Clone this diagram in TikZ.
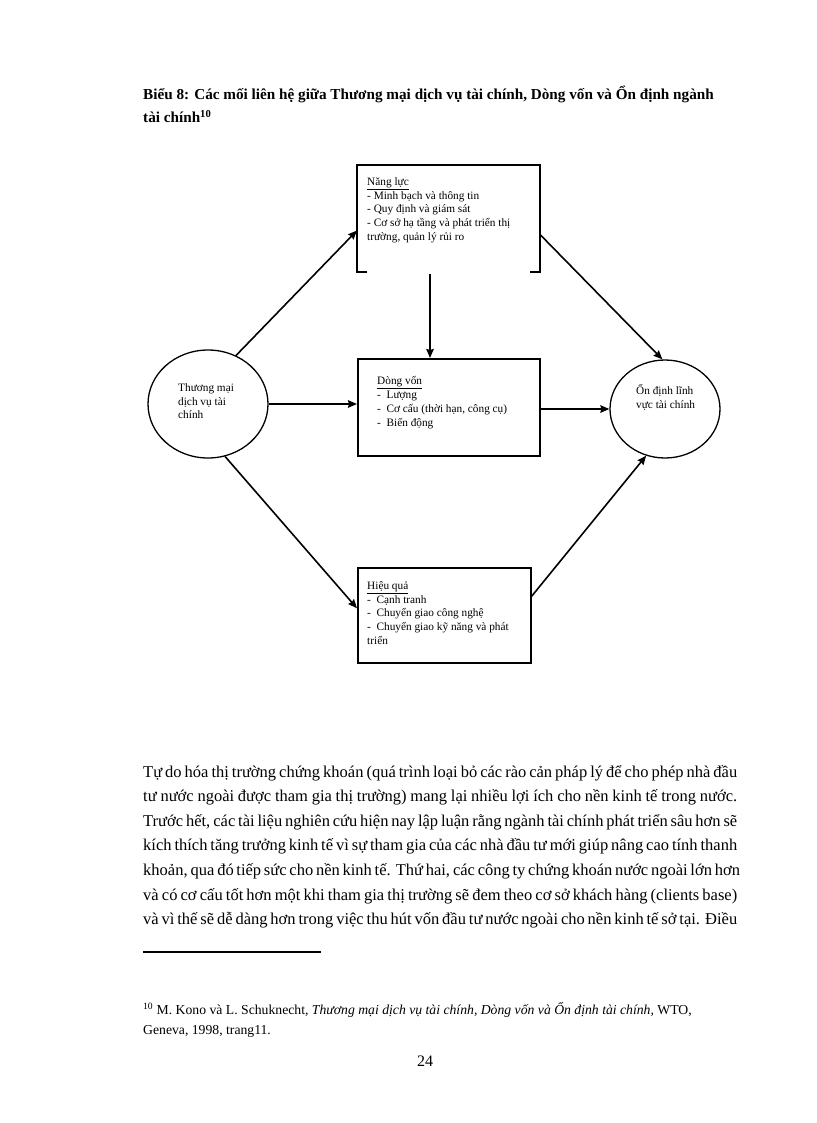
\documentclass[tikz,border=0pt]{standalone}
\usepackage{fontspec}
\setmainfont{Liberation Serif}
\usetikzlibrary{arrows.meta,shapes.geometric,positioning}

\tikzset{
    box/.style={rectangle, draw, line width=1.6pt, inner sep=0pt, anchor=north west},
    frame/.style={rectangle, inner sep=0pt, outer sep=0pt, anchor=north west},
    oval/.style={ellipse, draw, line width=1.3pt, inner sep=0pt},
    textblock/.style={anchor=north west, align=left, inner sep=0pt, execute at begin node=\strut},
    boxtext/.style={textblock, font=\fontsize{11.3}{13.8}\selectfont},
    link/.style={-{Stealth[length=9pt,width=7.5pt,inset=1pt]}, line width=1.6pt},
}

\begin{document}
\begin{tikzpicture}[x=1pt, y=-1pt]
        \useasboundingbox (0, 0) rectangle (816, 1123);

        % Title
        \node (title) [textblock, font=\fontsize{15.2}{23}\selectfont\bfseries] at (143, 86)
            {Biểu 8: Các mối liên hệ giữa Thương mại dịch vụ tài chính, Dòng vốn và Ổn định ngành\\tài chính\textsuperscript{10}};

        % Nodes
        \node (tm) [oval, minimum width=120, minimum height=108] at (208, 404) {};
        \node (od) [oval, minimum width=110, minimum height=98] at (665, 409) {};
        \node (nl) [frame, minimum width=183, minimum height=107] at (357, 165) {};
        \node (dv) [box, minimum width=182, minimum height=97] at (357, 358) {};
        \node (hq) [box, minimum width=173, minimum height=95] at (357, 567) {};

        \node (tmtxt) [boxtext] at (178, 383.3) {Thương mại\\dịch vụ tài\\chính};
        \node (odtxt) [boxtext] at (636, 384.3) {Ổn định lĩnh\\vực tài chính};
        \node (nltxt) [boxtext] at (367, 177.3)
            {\underline{Năng lực}\\- Minh bạch và thông tin\\- Quy định và giám sát\\- Cơ sở hạ tầng và phát triển thị\\trường, quản lý rủi ro};
        \node (dvtxt) [boxtext] at (377, 376.3)
            {\underline{Dòng vốn}\\-\ \ Lượng\\-\ \ Cơ cấu (thời hạn, công cụ)\\-\ \ Biến động};
        \node (hqtxt) [boxtext] at (367, 581.3)
            {\underline{Hiệu quả}\\-\ \ Cạnh tranh\\-\ \ Chuyển giao công nghệ\\-\ \ Chuyển giao kỹ năng và phát\\triển};

        % Open frame of the top box
        \draw[line width=1.6pt] ([xshift=10pt]nl.south west) -- (nl.south west) -- (nl.north west)
            -- (nl.north east) -- (nl.south east) -- ([xshift=-10pt]nl.south east);

        % Edges
        \draw[link] (tm.60) -- ([yshift=-12pt]nl.west);
        \draw[link] (tm.east) -- (tm.east -| dv.west);
        \draw[link] (tm.-72) -- ([yshift=7pt]hq.west);
        \draw[link] ([xshift=-18.5pt, yshift=-2pt]nl.south) -- ([xshift=-18.5pt]nl.south |- dv.north);
        \draw[link] ([yshift=-16pt]nl.east) -- (od.93);
        \draw[link] (dv.east |- od.west) -- (od.west);
        \draw[link] ([yshift=19pt]hq.east) -- (od.-112);

        % Text below
        \node (body) [textblock, font=\fontsize{16.5}{24.6}\selectfont] at (143, 765)
            {\makebox[594pt][s]{Tự do hóa thị trường chứng khoán (quá trình loại bỏ các rào cản pháp lý để cho phép nhà đầu}\\
             \makebox[594pt][s]{tư nước ngoài được tham gia thị trường) mang lại nhiều lợi ích cho nền kinh tế trong nước.}\\
             \makebox[594pt][s]{Trước hết, các tài liệu nghiên cứu hiện nay lập luận rằng ngành tài chính phát triển sâu hơn sẽ}\\
             \makebox[594pt][s]{kích thích tăng trưởng kinh tế vì sự tham gia của các nhà đầu tư mới giúp nâng cao tính thanh}\\
             \makebox[594pt][s]{khoản, qua đó tiếp sức cho nền kinh tế. Thứ hai, các công ty chứng khoán nước ngoài lớn hơn}\\
             \makebox[594pt][s]{và có cơ cấu tốt hơn một khi tham gia thị trường sẽ đem theo cơ sở khách hàng (clients base)}\\
             \makebox[594pt][s]{và vì thế sẽ dễ dàng hơn trong việc thu hút vốn đầu tư nước ngoài cho nền kinh tế sở tại. Điều}};

        % Footnote
        \draw[line width=2pt] (143, 952) -- (321, 952);
        \node (note) [textblock, font=\fontsize{13.7}{20}\selectfont] at (143, 1002)
            {\textsuperscript{10} M. Kono và L. Schuknecht, \textit{Thương mại dịch vụ tài chính, Dòng vốn và Ổn định tài chính,} WTO,\\Geneva, 1998, trang11.};
        \node (page) [anchor=base, inner sep=0pt, font=\fontsize{16}{20}\selectfont] at (425, 1066) {24};
    \end{tikzpicture}
\end{document}
